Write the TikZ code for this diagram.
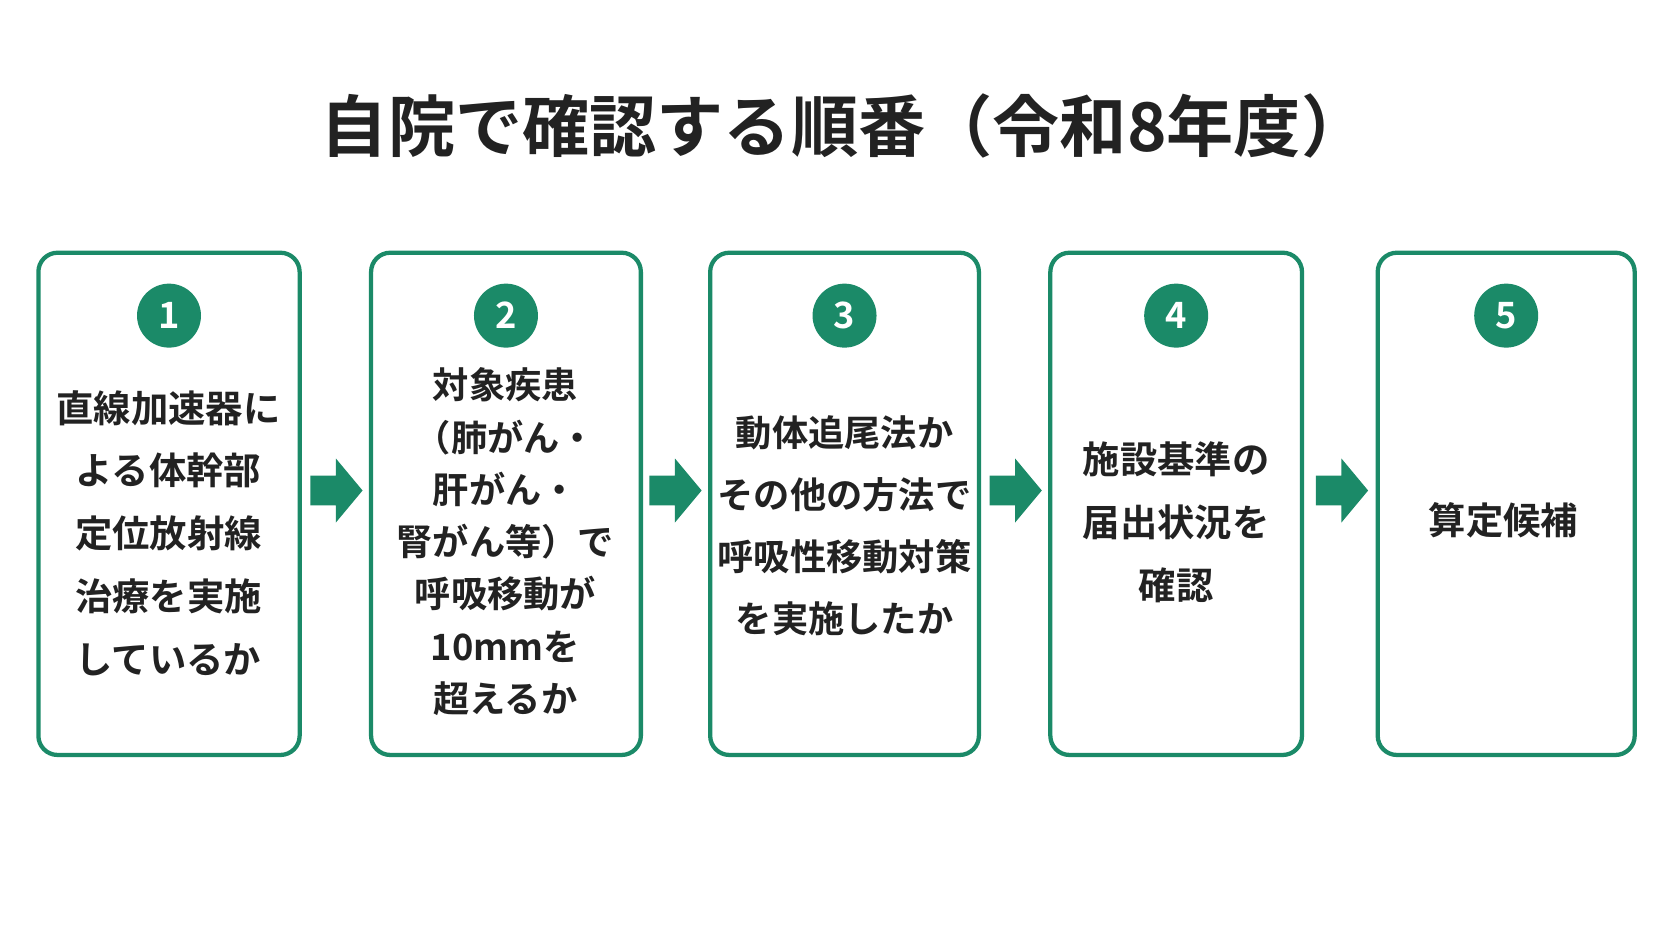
\documentclass[tikz,border=0pt]{standalone}
\usepackage{fontspec}
\setmainfont{Noto Sans CJK JP}[BoldFont={* Bold}]
\definecolor{grn}{HTML}{1B8A68}
\definecolor{txt}{HTML}{222222}
\begin{document}
\begin{tikzpicture}[x=1pt,y=-1pt,
 box/.style={draw=grn,line width=4pt,rounded corners=18pt},
 num/.style={circle,fill=grn,minimum size=60pt,inner sep=0,text=white,font=\bfseries\fontsize{34}{34}\selectfont},
 body/.style={align=center,text=txt,font=\bfseries\fontsize{35}{59}\selectfont},
 arr/.style={fill=grn}]
\useasboundingbox (0,0) rectangle (1568,882);
\node[text=txt,font=\bfseries\fontsize{63}{66}\selectfont] (title) at (792,118) {自院で確認する順番（令和8年度）};
\foreach \i/\a/\b in {1/36/281,2/348/601,3/666/918,4/985/1221,5/1292/1533}{
 \draw[box] (\a,237) rectangle (\b,708);
 \node[num] (n\i) at ({(\a+\b)/2},296) {\i};
}
\node[body] (t1) at (158,500) {直線加速器に\\よる体幹部\\定位放射線\\治療を実施\\しているか};
\node[body,font=\bfseries\fontsize{34}{49}\selectfont] (t2) at (474,508) {対象疾患\\（肺がん・\\肝がん・\\腎がん等）で\\呼吸移動が\\10mmを\\超えるか};
\node[body,font=\bfseries\fontsize{34}{58}\selectfont] (t3) at (792,493) {動体追尾法か\\その他の方法で\\呼吸性移動対策\\を実施したか};
\node[body] (t4) at (1103,490) {施設基準の\\届出状況を\\確認};
\node[body] (t5) at (1410,488) {算定候補};
\foreach \x in {291,609,928,1234}{
 \fill[grn] (\x,446) -- (\x+24,446) -- (\x+24,430) -- (\x+49,460) -- (\x+24,490) -- (\x+24,474) -- (\x,474) -- cycle;
}
\end{tikzpicture}
\end{document}
